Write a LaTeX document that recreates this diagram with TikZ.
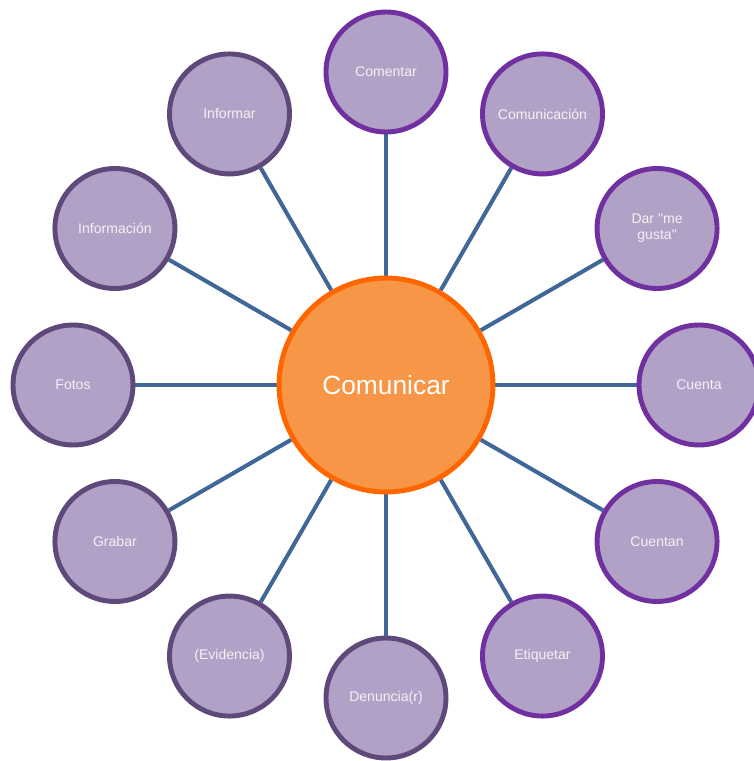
\documentclass[tikz,border=0pt]{standalone}
\usepackage{fontspec}
\newfontfamily\arialish[Ligatures=TeXOff]{Liberation Sans}
\usetikzlibrary{backgrounds}
\definecolor{leaf}{HTML}{B2A1C7}
\definecolor{rimR}{HTML}{7030A0}
\definecolor{rimL}{HTML}{5F497A}
\definecolor{spoke}{HTML}{3F6797}
\definecolor{hubfill}{HTML}{F79646}
\definecolor{hubrim}{HTML}{FF6600}
\definecolor{lbl}{HTML}{F2F2F2}

\begin{document}
\begin{tikzpicture}[x=0.02cm,y=0.02cm]
        %
        % `hub' is the big orange circle in the middle.
        % `leafR' / `leafL' are the small circles (right and left half).
        % `link' is used for the spokes.
        \tikzstyle{hub} = [draw=hubrim,fill=hubfill,line width=2.8pt,shape=circle,minimum size=4.28cm,inner sep=0pt,text=white,font=\arialish\fontsize{15}{17}\selectfont]
        \tikzstyle{leafR} = [draw=rimR,fill=leaf,line width=2.8pt,shape=circle,minimum size=2.4cm,inner sep=0pt,text=lbl,font=\arialish\fontsize{8}{9}\selectfont,align=center]
        \tikzstyle{leafL} = [leafR,draw=rimL]
        \tikzstyle{link} = [draw=spoke,line width=2.3pt]
        %
        \useasboundingbox (-386,-376) rectangle (368,385);
        %
        % Centre
        \node[hub] (comunicar) at (0,0) {Comunicar};
        %
        % Right half
        \node[leafR] (comentar) at (90:313) {Comentar};
        \node[leafR] (comunicacion) at (60:313) {Comunicación};
        \node[leafR] (megusta) at (30:313) {Dar "me\\gusta"};
        \node[leafR] (cuenta) at (0:313) {Cuenta};
        \node[leafR] (cuentan) at (-30:313) {Cuentan};
        \node[leafR] (etiquetar) at (-60:313) {Etiquetar};
        %
        % Left half
        \node[leafL] (denuncia) at (-90:313) {Denuncia(r)};
        \node[leafL] (evidencia) at (-120:313) {(Evidencia)};
        \node[leafL] (grabar) at (-150:313) {Grabar};
        \node[leafL] (fotos) at (180:313) {Fotos};
        \node[leafL] (informacion) at (150:313) {Información};
        \node[leafL] (informar) at (120:313) {Informar};
        %
        % Spokes
        \begin{pgfonlayer}{background}
        \draw[link] (comunicar) -- (comentar);
        \draw[link] (comunicar) -- (comunicacion);
        \draw[link] (comunicar) -- (megusta);
        \draw[link] (comunicar) -- (cuenta);
        \draw[link] (comunicar) -- (cuentan);
        \draw[link] (comunicar) -- (etiquetar);
        \draw[link] (comunicar) -- (denuncia);
        \draw[link] (comunicar) -- (evidencia);
        \draw[link] (comunicar) -- (grabar);
        \draw[link] (comunicar) -- (fotos);
        \draw[link] (comunicar) -- (informacion);
        \draw[link] (comunicar) -- (informar);
        \end{pgfonlayer}
        %
\end{tikzpicture}
\end{document}
